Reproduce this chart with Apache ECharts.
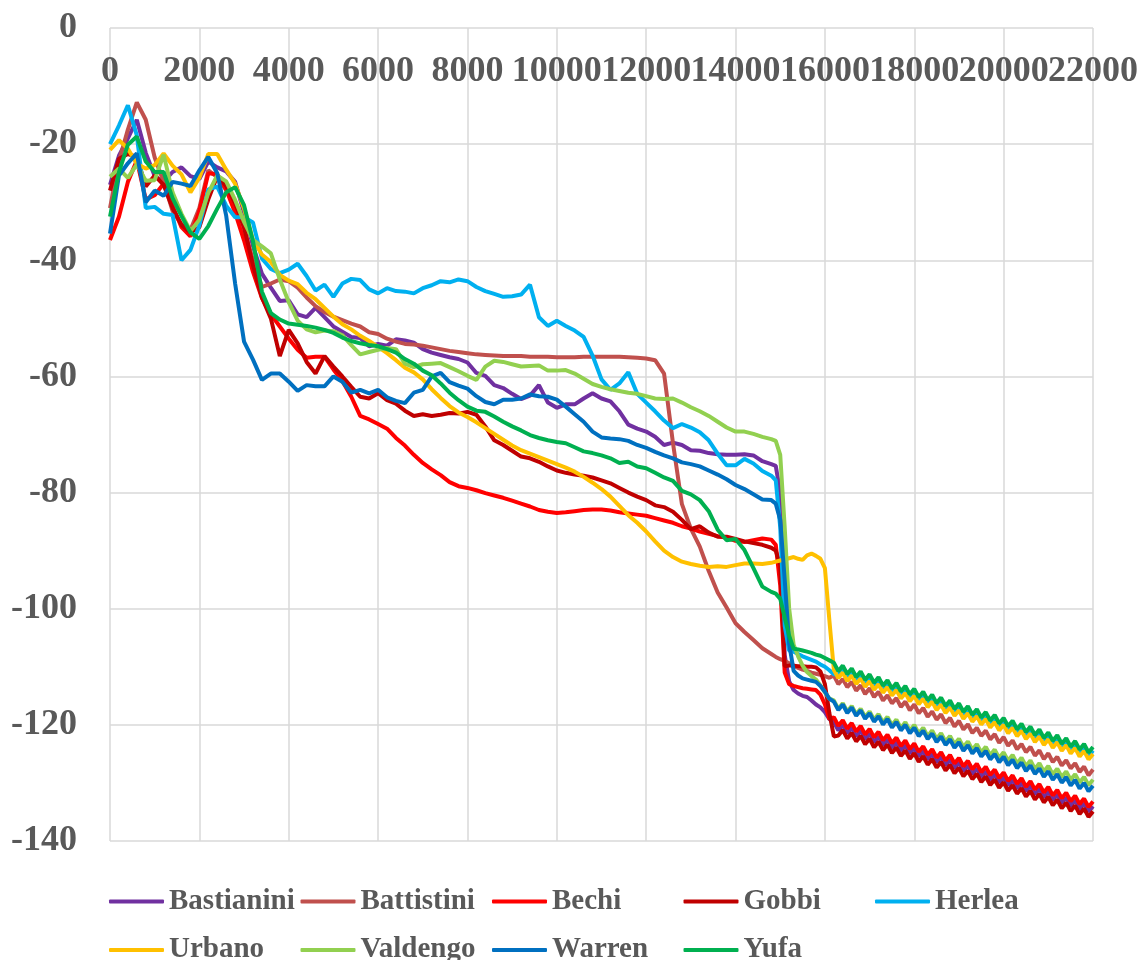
<!DOCTYPE html>
<html><head><meta charset="utf-8">
<script src="https://cdn.jsdelivr.net/npm/echarts@6/dist/echarts.min.js"></script>
<style>html,body{margin:0;padding:0;background:#fff}#c{width:1143px;height:960px}</style>
</head><body><div id="c"></div>
<script>
const xValues = [
0,200,400,600,800,1000,1200,1400,1600,1800,
2000,2200,2400,2600,2800,3000,3200,3400,3600,3800,
4000,4200,4400,4600,4800,5000,5200,5400,5600,5800,
6000,6200,6400,6600,6800,7000,7200,7400,7600,7800,
8000,8200,8400,8600,8800,9000,9200,9400,9600,9800,
10000,10200,10400,10600,10800,11000,11200,11400,11600,11800,
12000,12200,12400,12600,12800,13000,13200,13400,13600,13800,
14000,14200,14400,14600,14800,
14900,15000,15100,15200,15300,15400,15500,15600,15700,15800,15900,16000,16100,
16200,16300,16400,16500,16600,16700,16800,16900,17000,17100,
17200,17300,17400,17500,17600,17700,17800,17900,18000,18100,
18200,18300,18400,18500,18600,18700,18800,18900,19000,19100,
19200,19300,19400,19500,19600,19700,19800,19900,20000,20100,
20200,20300,20400,20500,20600,20700,20800,20900,21000,21100,
21200,21300,21400,21500,21600,21700,21800,21900,22000];

const xTickLabels = ['0','2000','4000','6000','8000','10000','12000','14000','16000','18000','20000','22000'];
const yTickLabels = ['0','-20','-40','-60','-80','-100','-120','-140'];

const seriesNames = ['Bastianini','Battistini','Bechi','Gobbi','Herlea','Urbano','Valdengo','Warren','Yufa'];
const seriesColors = ['#7030A0','#C0504D','#FF0000','#C00000','#00B0F0','#FFC000','#92D050','#0070C0','#00B050'];

const bastianini = [
-27,-22,-19,-15.8,-21.5,-25.5,-26.5,-24.8,-24,-25.5,
-26,-23,-24,-24.7,-26.5,-31.8,-37.5,-42.3,-44.7,-47,
-46.9,-49.3,-49.8,-48.2,-49.8,-51.4,-52.3,-53.2,-53.4,-54.8,
-54.4,-54.7,-53.6,-53.8,-54.2,-55.3,-55.9,-56.3,-56.7,-57,
-57.6,-59.4,-59.9,-61.5,-62,-63,-63.9,-63.3,-61.5,-64.5,
-65.4,-64.8,-64.8,-63.8,-62.9,-63.8,-64.3,-66,-68.3,-69,
-69.5,-70.4,-71.8,-71.4,-71.8,-72.7,-72.8,-73.2,-73.4,-73.5,
-73.5,-73.4,-73.6,-74.6,-75.1,
-75.4,-80,-108,-112.5,-114,-114.6,-115,-115.2,-115.8,-116.5,-117,-117.8,-119,
-119.5,-120.95,-120.0,-121.45,-120.5,-121.95,-121.0,-122.45,-121.5,-122.95,
-122.0,-123.45,-122.5,-123.95,-123.0,-124.45,-123.5,-124.95,-124.0,-125.45,
-124.5,-125.95,-125.0,-126.45,-125.5,-126.95,-126.0,-127.45,-126.5,-127.95,
-127.0,-128.45,-127.5,-128.95,-128.0,-129.45,-128.5,-129.95,-129.0,-130.45,
-129.5,-130.95,-130.0,-131.45,-130.5,-131.95,-131.0,-132.45,-131.5,-132.95,
-132.0,-133.45,-132.5,-133.95,-133.0,-134.45,-133.5,-134.95,-134.0];

const battistini = [
-31,-23,-17.5,-12.8,-15.8,-22.3,-26.5,-31.5,-33.8,-34.8,
-31,-24.5,-25.7,-27.9,-30,-34.5,-40,-44.6,-44,-43.3,
-43.6,-44.7,-46.4,-47.9,-48.9,-49.7,-50.3,-50.9,-51.4,-52.4,
-52.7,-53.5,-54,-54.4,-54.5,-54.7,-55,-55.3,-55.6,-55.8,
-56,-56.2,-56.3,-56.4,-56.5,-56.5,-56.5,-56.6,-56.6,-56.6,
-56.7,-56.7,-56.7,-56.6,-56.6,-56.6,-56.6,-56.6,-56.7,-56.8,
-56.9,-57.2,-59.5,-71.5,-82,-86.2,-89.3,-93.5,-97.2,-99.8,
-102.5,-104,-105.4,-106.8,-107.8,
-108.3,-108.7,-109,-109.4,-109.8,-110.2,-110.5,-110.7,-111,-111.2,-111.4,-111.6,-111.9,
-111.5,-113.0,-112.1,-113.5,-112.6,-114.1,-113.2,-114.7,-113.7,-115.2,
-114.3,-115.8,-114.9,-116.3,-115.4,-116.9,-116.0,-117.5,-116.5,-118.0,
-117.1,-118.6,-117.7,-119.1,-118.2,-119.7,-118.8,-120.3,-119.3,-120.8,
-119.9,-121.4,-120.5,-121.9,-121.0,-122.5,-121.6,-123.1,-122.1,-123.6,
-122.7,-124.2,-123.3,-124.7,-123.8,-125.3,-124.4,-125.9,-124.9,-126.4,
-125.5,-127.0,-126.1,-127.5,-126.6,-128.1,-127.2,-128.7,-127.7];

const bechi = [
-36.5,-32.5,-26.5,-22.8,-29.5,-28.8,-26.8,-30.6,-34.3,-35.9,
-31.5,-25,-25.2,-27.8,-31.8,-36.6,-42,-46.5,-49.3,-51.4,
-53.5,-55.4,-56.8,-56.6,-56.6,-58.8,-60.8,-63.5,-66.8,-67.4,
-68.2,-69,-70.6,-71.9,-73.5,-74.9,-76,-77,-78.2,-78.9,
-79.2,-79.6,-80.1,-80.5,-80.9,-81.4,-81.9,-82.4,-83,-83.3,
-83.5,-83.4,-83.2,-83,-82.9,-82.9,-83.1,-83.4,-83.6,-83.8,
-84,-84.4,-84.8,-85.2,-85.8,-86.2,-86.7,-87.1,-87.5,-87.8,
-88.3,-88.5,-88.2,-87.9,-88.1,
-89,-96,-111,-113,-113.3,-113.5,-113.7,-113.8,-113.9,-114,-114.8,-116.5,-119,
-118.7,-120.15,-119.2,-120.65,-119.7,-121.15,-120.2,-121.65,-120.7,-122.15,
-121.2,-122.65,-121.7,-123.15,-122.2,-123.65,-122.7,-124.15,-123.2,-124.65,
-123.7,-125.15,-124.2,-125.65,-124.7,-126.15,-125.2,-126.65,-125.7,-127.15,
-126.2,-127.65,-126.7,-128.15,-127.2,-128.65,-127.7,-129.15,-128.2,-129.65,
-128.7,-130.15,-129.2,-130.65,-129.7,-131.15,-130.2,-131.65,-130.7,-132.15,
-131.2,-132.65,-131.7,-133.15,-132.2,-133.65,-132.7,-134.15,-133.2];

const gobbi = [
-28,-22.5,-21.7,-22.2,-27.3,-25.4,-27,-31,-33.9,-35.2,
-34.3,-29.5,-25.5,-27.2,-30.2,-34.3,-40.8,-46.4,-50,-56.5,
-52,-54.3,-57.5,-59.5,-56.5,-58.3,-60,-61.8,-63.5,-63.8,
-62.9,-64.1,-64.7,-65.9,-66.8,-66.5,-66.8,-66.6,-66.3,-66.4,
-66.1,-66.6,-68.6,-71,-71.8,-72.8,-73.8,-74.1,-74.7,-75.5,
-76.2,-76.6,-76.9,-77.1,-77.4,-77.9,-78.4,-79.2,-80,-80.7,
-81.3,-82.2,-82.5,-83.3,-84.7,-86.3,-85.8,-86.9,-87.6,-87.6,
-88,-88.4,-88.7,-89,-89.5,
-90,-92.5,-109.9,-109.8,-109.8,-109.9,-109.9,-110,-110,-110.1,-110.8,-113,-118,
-122.0,-121.85,-120.9,-122.35,-121.4,-122.85,-121.9,-123.35,-122.4,-123.85,
-122.9,-124.35,-123.4,-124.85,-123.9,-125.35,-124.4,-125.85,-124.9,-126.35,
-125.4,-126.85,-125.9,-127.35,-126.4,-127.85,-126.9,-128.35,-127.4,-128.85,
-127.9,-129.35,-128.4,-129.85,-128.9,-130.35,-129.4,-130.85,-129.9,-131.35,
-130.4,-131.85,-130.9,-132.35,-131.4,-132.85,-131.9,-133.35,-132.4,-133.85,
-132.9,-134.35,-133.4,-134.85,-133.9,-135.35,-134.4,-135.85,-134.9];

const herlea = [
-20,-16.8,-13.3,-18.5,-31,-30.8,-32,-32.2,-40,-38.2,
-34,-27.8,-27.3,-30.6,-32.6,-32.6,-33.5,-39.7,-41.5,-42.2,
-41.6,-40.6,-42.7,-45.2,-44.2,-46.3,-44,-43.2,-43.4,-45,
-45.7,-44.8,-45.3,-45.4,-45.7,-44.8,-44.3,-43.6,-43.8,-43.3,
-43.6,-44.6,-45.3,-45.8,-46.3,-46.2,-45.9,-44.2,-49.8,-51.3,
-50.4,-51.3,-52.1,-53.2,-56.4,-60.5,-62.3,-61.2,-59.3,-63,
-64.5,-66,-67.6,-68.9,-68.2,-68.8,-69.6,-71,-73.3,-75.3,
-75.3,-74.2,-75,-76.3,-77.1,
-77.9,-86,-103,-107.2,-107.4,-107.8,-108.2,-108.5,-108.8,-109.1,-109.6,-110,-110.6,
-111.3,-111.35,-110.4,-111.85,-110.9,-112.35,-111.4,-112.85,-111.9,-113.35,
-112.4,-113.85,-112.9,-114.35,-113.4,-114.85,-113.9,-115.35,-114.4,-115.85,
-114.9,-116.35,-115.4,-116.85,-115.9,-117.35,-116.4,-117.85,-116.9,-118.35,
-117.4,-118.85,-117.9,-119.35,-118.4,-119.85,-118.9,-120.35,-119.4,-120.85,
-119.9,-121.35,-120.4,-121.85,-120.9,-122.35,-121.4,-122.85,-121.9,-123.35,
-122.4,-123.85,-122.9,-124.35,-123.4,-124.85,-123.9,-125.35,-124.4];

const urbano = [
-21,-19.3,-20.8,-23.4,-24.2,-23.6,-21.6,-23.7,-25.2,-28.3,
-25.8,-21.7,-21.7,-24.4,-26.8,-31.1,-36.5,-39,-40.3,-42.5,
-43.5,-44.1,-45.6,-46.7,-48.2,-49.7,-51,-51.9,-53,-53.9,
-54.9,-56,-57.2,-58.5,-59.3,-60.5,-62.2,-63.7,-65.1,-66.2,
-67,-67.9,-68.9,-69.9,-70.9,-71.9,-72.7,-73.3,-73.9,-74.5,
-75.1,-75.7,-76.4,-77.3,-78.3,-79.4,-80.7,-82.3,-83.9,-85.2,
-86.7,-88.4,-90,-91.1,-91.9,-92.3,-92.6,-92.8,-92.7,-92.8,
-92.5,-92.2,-92.2,-92.3,-92.1,
-91.9,-91.7,-91.5,-91.3,-91.1,-91.4,-91.6,-90.8,-90.5,-90.9,-91.4,-93,-102,
-110.5,-111.95,-111.0,-112.45,-111.5,-112.95,-112.0,-113.45,-112.5,-113.95,
-113.0,-114.45,-113.5,-114.95,-114.0,-115.45,-114.5,-115.95,-115.0,-116.45,
-115.5,-116.95,-116.0,-117.45,-116.5,-117.95,-117.0,-118.45,-117.5,-118.95,
-118.0,-119.45,-118.5,-119.95,-119.0,-120.45,-119.5,-120.95,-120.0,-121.45,
-120.5,-121.95,-121.0,-122.45,-121.5,-122.95,-122.0,-123.45,-122.5,-123.95,
-123.0,-124.45,-123.5,-124.95,-124.0,-125.45,-124.5,-125.95,-125.0];

const valdengo = [
-25.6,-24.2,-25.8,-23.5,-26.3,-26.2,-21.8,-28.3,-32,-35,
-33,-28.4,-25.4,-26.4,-29.6,-33.4,-36.5,-37.6,-38.8,-43.3,
-47.2,-50.4,-51.9,-52.4,-52.1,-52.2,-52.9,-54.6,-56.2,-55.8,
-55.4,-55.1,-55.3,-57.8,-58.4,-57.9,-57.8,-57.7,-58.4,-59.1,
-59.9,-60.6,-58.3,-57.3,-57.5,-57.9,-58.3,-58.2,-58.1,-59,
-59,-58.9,-59.5,-60.4,-61.3,-61.8,-62.2,-62.5,-62.8,-63,
-63.4,-63.8,-63.9,-63.8,-64.5,-65.3,-66,-66.8,-67.8,-68.8,
-69.5,-69.5,-69.9,-70.4,-70.8,
-71.1,-73.5,-86,-100,-106.2,-108.2,-109.8,-110.9,-111.6,-112.2,-113.2,-114.4,-115.5,
-115.8,-117.24,-116.27,-117.71,-116.74,-118.18,-117.21,-118.65,-117.68,-119.12,
-118.15,-119.59,-118.62,-120.06,-119.09,-120.53,-119.56,-121.0,-120.03,-121.47,
-120.5,-121.94,-120.97,-122.41,-121.44,-122.88,-121.91,-123.35,-122.38,-123.82,
-122.85,-124.29,-123.32,-124.76,-123.79,-125.23,-124.26,-125.7,-124.73,-126.17,
-125.2,-126.64,-125.67,-127.11,-126.14,-127.58,-126.61,-128.05,-127.08,-128.52,
-127.55,-128.99,-128.02,-129.46,-128.49,-129.93,-128.96,-130.4,-129.43];

const warren = [
-35.4,-25.4,-23.3,-21.6,-30,-28,-28.9,-26.5,-26.8,-27.2,
-24.5,-22.2,-25,-32.3,-44,-54,-57.1,-60.6,-59.5,-59.5,
-60.9,-62.5,-61.5,-61.7,-61.7,-60,-60.9,-62.8,-62.3,-62.9,
-62.3,-63.6,-64.2,-64.6,-62.8,-62.3,-60,-59.4,-61,-61.6,
-62.1,-63.4,-64.4,-64.8,-64,-64,-63.8,-63.1,-63.4,-63.5,
-64,-65.2,-66.5,-67.8,-69.5,-70.5,-70.7,-70.8,-71.1,-71.8,
-72.3,-73,-73.6,-74.1,-74.8,-75.1,-75.5,-76.2,-76.9,-77.7,
-78.7,-79.4,-80.3,-81.2,-81.3,
-81.9,-84.7,-95,-106,-110.7,-111.5,-112,-112.2,-112.4,-112.6,-113.3,-114.3,-115.5,
-116.0,-117.45,-116.5,-117.95,-117.0,-118.45,-117.5,-118.95,-118.0,-119.45,
-118.5,-119.95,-119.0,-120.45,-119.5,-120.95,-120.0,-121.45,-120.5,-121.95,
-121.0,-122.45,-121.5,-122.95,-122.0,-123.45,-122.5,-123.95,-123.0,-124.45,
-123.5,-124.95,-124.0,-125.45,-124.5,-125.95,-125.0,-126.45,-125.5,-126.95,
-126.0,-127.45,-126.5,-127.95,-127.0,-128.45,-127.5,-128.95,-128.0,-129.45,
-128.5,-129.95,-129.0,-130.45,-129.5,-130.95,-130.0,-131.45,-130.5];

const yufa = [
-32.5,-24.8,-20.1,-18.7,-23,-24.8,-24.8,-29.3,-32.4,-35.2,
-36.3,-34.1,-31.1,-28.3,-27.4,-30.5,-36.7,-45.4,-49.1,-50.2,
-50.9,-51.1,-51.3,-51.6,-52,-52.5,-53.3,-53.9,-54.3,-54.6,
-54.8,-55.3,-55.9,-57,-57.8,-59,-59.8,-61.2,-62.8,-64.1,
-65.2,-65.9,-66.1,-66.9,-67.8,-68.6,-69.3,-70.1,-70.6,-71,
-71.3,-71.5,-72.2,-72.9,-73.2,-73.6,-74.1,-74.9,-74.7,-75.5,
-75.8,-76.6,-77.4,-78,-79.7,-80.3,-81.3,-83.2,-86.4,-88.2,
-88,-89.9,-93,-96.2,-97.1,
-97.4,-98.3,-101.5,-104.7,-106.9,-107,-107.2,-107.4,-107.6,-107.9,-108.1,-108.5,-108.9,
-109.3,-110.75,-109.8,-111.25,-110.3,-111.75,-110.8,-112.25,-111.3,-112.75,
-111.8,-113.25,-112.3,-113.75,-112.8,-114.25,-113.3,-114.75,-113.8,-115.25,
-114.3,-115.75,-114.8,-116.25,-115.3,-116.75,-115.8,-117.25,-116.3,-117.75,
-116.8,-118.25,-117.3,-118.75,-117.8,-119.25,-118.3,-119.75,-118.8,-120.25,
-119.3,-120.75,-119.8,-121.25,-120.3,-121.75,-120.8,-122.25,-121.3,-122.75,
-121.8,-123.25,-122.3,-123.75,-122.8,-124.25,-123.3,-124.75,-123.8];

const valueSets = [bastianini, battistini, bechi, gobbi, herlea, urbano, valdengo, warren, yufa];
valueSets.forEach((v,k)=>{ if (v.length !== xValues.length) console.error(seriesNames[k], v.length, xValues.length); });

const FONT = '"Liberation Serif", "Times New Roman", serif';
const labelStyle = {fontFamily: FONT, fontWeight: 'bold', fontSize: 36, color: '#595959'};
const lastTick = xTickLabels.length - 1;
const chart = echarts.init(document.getElementById('c'), null, {renderer: 'canvas'});
chart.setOption({
  animation: false,
  backgroundColor: '#ffffff',
  grid: {left: 110, right: 50, top: 28, bottom: 119, containLabel: false},
  legend: {
    left: 109, top: 880, width: 1010, padding: 0,
    icon: 'roundRect', itemWidth: 55, itemHeight: 4, itemGap: 5.5,
    textStyle: {fontFamily: FONT, fontWeight: 'bold', fontSize: 29, color: '#595959', width: 126, lineHeight: 43},
    data: seriesNames
  },
  xAxis: [{
    type: 'value', position: 'top', min: 0, max: 22000, interval: 2000,
    axisLine: {show: false}, axisTick: {show: false},
    axisLabel: Object.assign({
      inside: true, margin: 26, showMinLabel: true, showMaxLabel: false,
      formatter: function (v) { return xTickLabels[Math.round(v / 2000)]; }
    }, labelStyle),
    splitLine: {show: true, lineStyle: {color: '#D9D9D9', width: 1.5}}
  }, {
    type: 'value', position: 'top', min: 0, max: 22000, interval: 2000,
    axisLine: {show: false}, axisTick: {show: false}, splitLine: {show: false},
    axisLabel: Object.assign({
      inside: true, margin: 26, showMinLabel: false, showMaxLabel: true,
      formatter: function (v) { const i = Math.round(v / 2000); return i === lastTick ? xTickLabels[i] : ''; }
    }, labelStyle)
  }],
  yAxis: {
    type: 'value', min: -140, max: 0, interval: 20,
    axisLine: {show: false}, axisTick: {show: false},
    axisLabel: Object.assign({
      margin: 33,
      formatter: function (v) { return yTickLabels[Math.round(-v / 20)]; }
    }, labelStyle),
    splitLine: {show: true, lineStyle: {color: '#D9D9D9', width: 1.5}}
  },
  series: valueSets.map((vals, k) => ({
    name: seriesNames[k], type: 'line', symbol: 'none', showSymbol: false, xAxisIndex: 0,
    data: xValues.map((x, i) => [x, vals[i]]),
    lineStyle: {width: 4, color: seriesColors[k]},
    itemStyle: {color: seriesColors[k]},
    emphasis: {disabled: true}
  }))
});
</script></body></html>
